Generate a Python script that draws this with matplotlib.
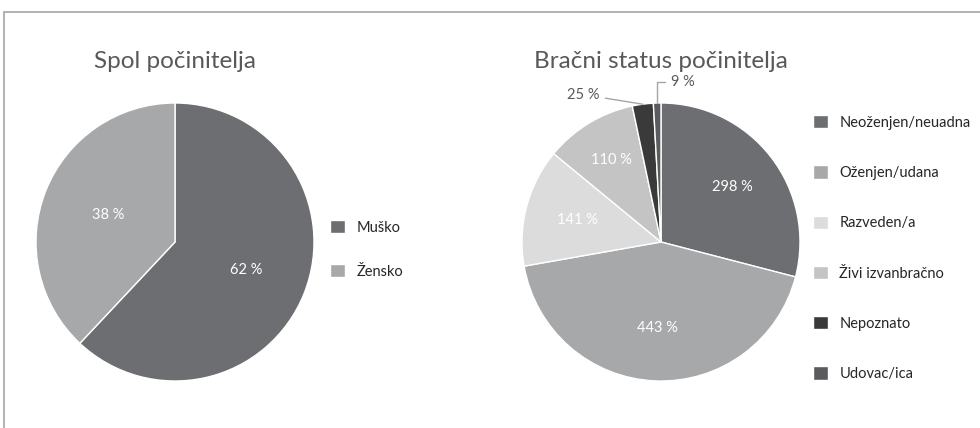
import matplotlib
matplotlib.use("Agg")
import matplotlib.pyplot as plt
import numpy as np
from matplotlib.patches import Rectangle

plt.rcParams["font.family"] = ["Lato", "DejaVu Sans"]

# data
spol_labels = ["Muško", "Žensko"]
spol_values = [62, 38]
spol_colours = ["#6d6e71", "#a7a8aa"]

status_labels = ["Neoženjen/neuadna", "Oženjen/udana", "Razveden/a",
                 "Živi izvanbračno", "Nepoznato", "Udovac/ica"]
status_values = [298, 443, 141, 110, 25, 9]
status_colours = ["#6d6e71", "#a7a8aa", "#dcdcdd", "#c4c4c5", "#3a3a3b", "#5b5b5d"]

W, H = 980, 428
fig = plt.figure(figsize=(W / 100, H / 100), dpi=100)


def pie_axes(cx, cy, r):
    return fig.add_axes([(cx - r) / W, (H - cy - r) / H, 2 * r / W, 2 * r / H])


title_kw = dict(fontsize=17.5, color="#595959")
leg_kw = dict(frameon=False, fontsize=10.5, handlelength=1.0, handleheight=1.0,
              handletextpad=0.8, labelcolor="#262626", borderpad=0, borderaxespad=0)

# left pie
ax1 = pie_axes(175, 242, 139)
wedges1, _ = ax1.pie(spol_values, colors=spol_colours, startangle=90, counterclock=False,
                     wedgeprops=dict(edgecolor="white", linewidth=1))
for w, v, r in zip(wedges1, spol_values, [0.55, 0.52]):
    ang = np.deg2rad((w.theta1 + w.theta2) / 2)
    ax1.text(r * np.cos(ang), r * np.sin(ang), f"{v} %", ha="center", va="center",
             color="white", fontsize=10.5)
ax1.set_xlim(-1, 1)
ax1.set_ylim(-1, 1)
ax1.set_title("Spol počinitelja", pad=25, **title_kw)
ax1.legend(wedges1, spol_labels, loc="center left", bbox_to_anchor=(1.058, 0.473),
           labelspacing=2.0, **leg_kw)

# right pie
ax2 = pie_axes(661, 242, 139)
wedges2, _ = ax2.pie(status_values, colors=status_colours, startangle=90, counterclock=False,
                     wedgeprops=dict(edgecolor="white", linewidth=1))
inside_r = [0.65, 0.62, 0.62, 0.69]
for w, v, r in zip(wedges2[:4], status_values[:4], inside_r):
    ang = np.deg2rad((w.theta1 + w.theta2) / 2)
    ax2.text(r * np.cos(ang), r * np.sin(ang), f"{v} %", ha="center", va="center",
             color="white", fontsize=10.5)

line_kw = dict(arrowstyle="-", color="#a6a6a6", lw=1, shrinkA=2, shrinkB=0)
w = wedges2[4]
ang = np.deg2rad((w.theta1 + w.theta2) / 2)
ax2.annotate(f"{status_values[4]} %", xy=(np.cos(ang), np.sin(ang)), xytext=(-0.44, 1.06),
             ha="right", va="center", fontsize=10.5, color="#595959", arrowprops=line_kw)
w = wedges2[5]
ang = np.deg2rad((w.theta1 + w.theta2) / 2)
ax2.annotate(f"{status_values[5]} %", xy=(np.cos(ang), np.sin(ang)), xytext=(0.07, 1.15),
             ha="left", va="center", fontsize=10.5, color="#595959",
             arrowprops=dict(line_kw, connectionstyle="angle,angleA=0,angleB=90,rad=0"))
ax2.set_xlim(-1, 1)
ax2.set_ylim(-1, 1)
ax2.set_title("Bračni status počinitelja", pad=25, **title_kw)
ax2.legend(wedges2, status_labels, loc="center left", bbox_to_anchor=(1.047, 0.478),
           labelspacing=2.45, **leg_kw)

# outer frame
fig.add_artist(Rectangle((4 / W, -0.1), 1.2, (H - 12) / H + 0.1, transform=fig.transFigure,
                         fill=False, edgecolor="#a6a6a6", linewidth=1.2))

fig.savefig("out.png", dpi=100)
